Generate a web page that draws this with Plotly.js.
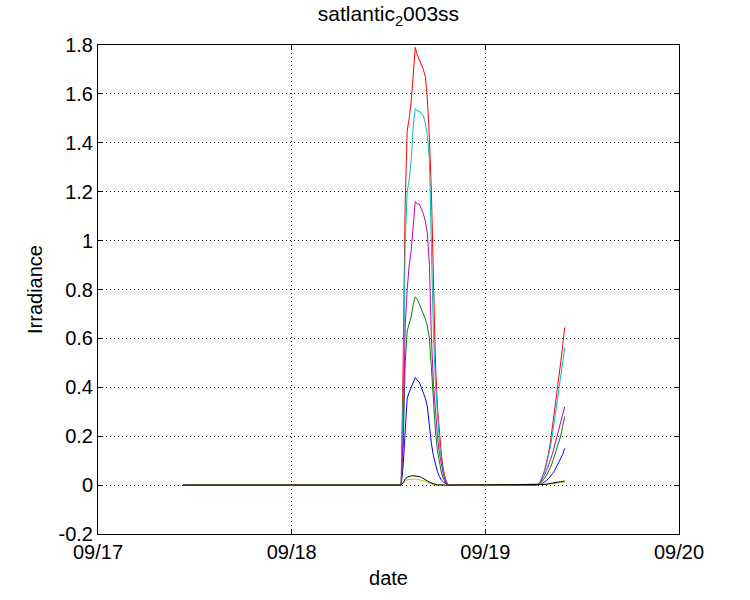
<!DOCTYPE html>
<html>
<head>
<meta charset="utf-8">
<script src="https://cdn.plot.ly/plotly-3.0.1.min.js"></script>
<style>html,body{margin:0;padding:0;background:#fff}#chart{width:750px;height:600px}</style>
</head>
<body>
<div id="chart"></div>
<script>
// time stamps (start of record, first daytime peak, second morning)
var timesStart = ["2003-09-17 10:31"];
var timesPeak = ["2003-09-18 13:34","2003-09-18 13:49","2003-09-18 14:04","2003-09-18 14:19","2003-09-18 14:34",
  "2003-09-18 14:49","2003-09-18 15:04","2003-09-18 15:19","2003-09-18 15:34","2003-09-18 15:49",
  "2003-09-18 16:04","2003-09-18 16:19","2003-09-18 16:34","2003-09-18 16:49","2003-09-18 17:04",
  "2003-09-18 17:19","2003-09-18 17:34","2003-09-18 17:49","2003-09-18 18:04","2003-09-18 18:19",
  "2003-09-18 18:34","2003-09-18 18:49","2003-09-18 19:04","2003-09-18 19:19","2003-09-18 19:34"];
var timesMorning = ["2003-09-19 06:20","2003-09-19 06:35","2003-09-19 06:50","2003-09-19 07:05","2003-09-19 07:20",
  "2003-09-19 07:35","2003-09-19 07:50","2003-09-19 08:05","2003-09-19 08:20","2003-09-19 08:35",
  "2003-09-19 08:50","2003-09-19 09:05","2003-09-19 09:20","2003-09-19 09:35","2003-09-19 09:50"];

// irradiance per channel
var blueStart = [0];
var bluePeak = [0,0.08,0.22,0.355,0.38,0.40,0.42,0.44,0.43,0.42,0.40,0.38,0.355,0.32,0.24,0.17,0.12,0.085,0.055,0.035,0.02,0.012,0.006,0.002,0];
var blueMorning = [0,0.001,0.003,0.007,0.012,0.019,0.027,0.036,0.047,0.06,0.075,0.09,0.105,0.125,0.15];

var greenStart = [0];
var greenPeak = [0,0.15,0.50,0.63,0.66,0.69,0.74,0.77,0.76,0.74,0.72,0.70,0.68,0.65,0.60,0.48,0.33,0.22,0.14,0.09,0.05,0.025,0.01,0.002,0];
var greenMorning = [0,0.002,0.008,0.016,0.027,0.04,0.055,0.073,0.095,0.12,0.145,0.17,0.20,0.24,0.28];

var redStart = [0];
var redPeak = [0,0.5,1.15,1.45,1.50,1.57,1.68,1.79,1.76,1.74,1.72,1.70,1.67,1.58,1.42,1.20,0.85,0.50,0.32,0.20,0.12,0.06,0.025,0.005,0];
var redMorning = [0,0.003,0.015,0.035,0.06,0.095,0.13,0.18,0.24,0.31,0.38,0.44,0.50,0.57,0.645];

var cyanStart = [0];
var cyanPeak = [0,0.35,1.0,1.2,1.25,1.33,1.47,1.54,1.53,1.53,1.52,1.51,1.48,1.43,1.33,1.0,0.62,0.42,0.28,0.17,0.10,0.05,0.02,0.005,0];
var cyanMorning = [0,0.003,0.014,0.032,0.055,0.085,0.12,0.16,0.21,0.27,0.33,0.38,0.43,0.49,0.56];

var magentaStart = [0];
var magentaPeak = [0,0.2,0.65,0.80,0.90,0.96,1.07,1.16,1.15,1.15,1.13,1.11,1.08,1.03,0.90,0.60,0.42,0.30,0.20,0.13,0.08,0.04,0.015,0.003,0];
var magentaMorning = [0,0.003,0.012,0.025,0.04,0.06,0.08,0.105,0.13,0.16,0.19,0.22,0.25,0.285,0.32];

var yellowStart = [0];
var yellowPeak = [0,0.007,0.017,0.022,0.024,0.025,0.025,0.025,0.024,0.023,0.021,0.018,0.015,0.011,0.008,0.005,0.003,0.002,0.001,0,0,0,0,0,0];
var yellowMorning = [0,0,0.001,0.001,0.002,0.003,0.004,0.005,0.006,0.007,0.008,0.009,0.010,0.011,0.012];

var blackStart = [0];
var blackPeak = [0,0.01,0.025,0.032,0.036,0.038,0.038,0.038,0.037,0.035,0.032,0.028,0.023,0.017,0.012,0.008,0.005,0.003,0.001,0,0,0,0,0,0];
var blackMorning = [0,0,0.001,0.002,0.003,0.004,0.005,0.006,0.008,0.009,0.011,0.012,0.014,0.015,0.017];

var xTickVals = ["2003-09-17","2003-09-18","2003-09-19","2003-09-20"];
var xTickText = ["09/17","09/18","09/19","09/20"];
var yTickVals = [-0.2,0,0.2,0.4,0.6,0.8,1,1.2,1.4,1.6,1.8];
var yTickText = ["-0.2","0","0.2","0.4","0.6","0.8","1","1.2","1.4","1.6","1.8"];

var allTimes = timesStart.concat(timesPeak, timesMorning);
function mk(s, p, m, color) {
  return {x: allTimes, y: s.concat(p, m), type: "scatter", mode: "lines",
          line: {color: color, width: 1}, hoverinfo: "skip", showlegend: false};
}
var data = [
  mk(blueStart, bluePeak, blueMorning, "rgb(0,0,255)"),
  mk(greenStart, greenPeak, greenMorning, "rgb(0,128,0)"),
  mk(redStart, redPeak, redMorning, "rgb(255,0,0)"),
  mk(cyanStart, cyanPeak, cyanMorning, "rgb(0,191,191)"),
  mk(magentaStart, magentaPeak, magentaMorning, "rgb(191,0,191)"),
  mk(yellowStart, yellowPeak, yellowMorning, "rgb(191,191,0)"),
  mk(blackStart, blackPeak, blackMorning, "rgb(0,0,0)")
];

var fontFam = "Liberation Sans, Arial, Helvetica, sans-serif";
var layout = {
  width: 750, height: 600,
  paper_bgcolor: "#fff", plot_bgcolor: "#fff",
  margin: {l: 98, r: 71, t: 45, b: 66},
  font: {family: fontFam, color: "#000", size: 20},
  title: {text: "satlantic<sub>2</sub>003ss", font: {size: 21, family: fontFam, color: "#000"},
          x: 0.518, xanchor: "center", y: 0.977, yanchor: "middle"},
  xaxis: {
    type: "date", range: ["2003-09-17", "2003-09-20"],
    tickmode: "array", tickvals: xTickVals, ticktext: xTickText,
    ticks: "inside", ticklen: 5, tickcolor: "#000", mirror: "ticks",
    showline: true, linecolor: "#000", linewidth: 1,
    showgrid: true, gridcolor: "#000", griddash: "1px,3px", gridwidth: 1,
    zeroline: false, tickfont: {size: 20, family: fontFam},
    title: {text: "date", font: {size: 20, family: fontFam}, standoff: 8}
  },
  yaxis: {
    range: [-0.2, 1.8],
    tickmode: "array", tickvals: yTickVals, ticktext: yTickText,
    ticks: "inside", ticklen: 5, tickcolor: "#000", mirror: "ticks",
    showline: true, linecolor: "#000", linewidth: 1,
    showgrid: true, gridcolor: "#000", griddash: "1px,3px", gridwidth: 1,
    zeroline: false, tickfont: {size: 20, family: fontFam},
    title: {text: "Irradiance", font: {size: 20, family: fontFam}, standoff: 10}
  }
};
Plotly.newPlot("chart", data, layout, {staticPlot: true, displayModeBar: false});
</script>
</body>
</html>
